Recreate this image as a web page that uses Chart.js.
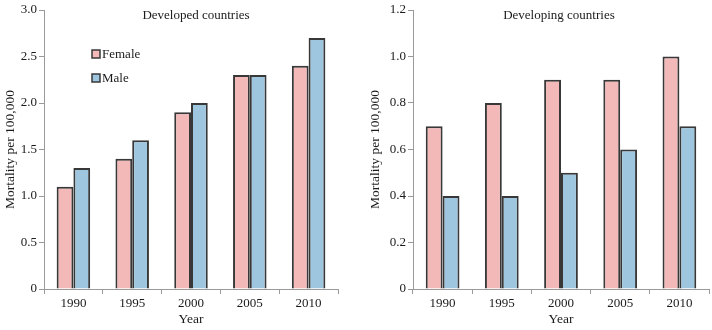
<!DOCTYPE html>
<html lang="en">
<head>
    <meta charset="UTF-8">
    <title>Mortality per 100,000 - Developed vs Developing</title>
    <script src="https://cdn.jsdelivr.net/npm/chart.js"></script>
    <style>
        body {
            margin: 0;
            background: #ffffff;
            width: 712px;
            height: 330px;
            overflow: hidden;
        }
        .panel {
            position: absolute;
            top: 0;
            width: 356px;
            height: 330px;
        }
        #leftPanel { left: 0; }
        #rightPanel { left: 356px; }
    </style>
</head>
<body>
    <div class="panel" id="leftPanel"><canvas id="developedChart"></canvas></div>
    <div class="panel" id="rightPanel"><canvas id="developingChart"></canvas></div>

    <script>
        const years = ["1990", "1995", "2000", "2005", "2010"];
        const developedFemale = [1.1, 1.4, 1.9, 2.3, 2.4];
        const developedMale = [1.3, 1.6, 2.0, 2.3, 2.7];
        const developingFemale = [0.7, 0.8, 0.9, 0.9, 1.0];
        const developingMale = [0.4, 0.4, 0.5, 0.6, 0.7];
        const developedTicks = [0, 0.5, 1.0, 1.5, 2.0, 2.5, 3.0];
        const developingTicks = [0, 0.2, 0.4, 0.6, 0.8, 1.0, 1.2];

        const femaleColor = "#f3b8b8";
        const maleColor = "#9ec6de";
        const edgeColor = "#383838";
        const axisColor = "#9a9a9a";
        const serif = "'Liberation Serif', 'Times New Roman', serif";

        // draws the panel title and (optionally) the legend inside the plot area
        const panelDecor = {
            id: "panelDecor",
            afterDraw(chart, args, opts) {
                const ctx = chart.ctx;
                const area = chart.chartArea;
                ctx.save();
                ctx.fillStyle = "#1a1a1a";
                ctx.font = "13px " + serif;
                ctx.textAlign = "center";
                ctx.textBaseline = "middle";
                ctx.fillText(opts.title, area.left + area.width * opts.titlePos, 16);

                if (opts.legend) {
                    chart.data.datasets.forEach((ds, i) => {
                        const y = opts.legendY + i * 24;
                        ctx.fillStyle = ds.backgroundColor;
                        ctx.fillRect(opts.legendX, y - 4, 8, 8);
                        ctx.strokeStyle = edgeColor;
                        ctx.lineWidth = 1.5;
                        ctx.strokeRect(opts.legendX, y - 4, 8, 8);
                        ctx.fillStyle = "#1a1a1a";
                        ctx.textAlign = "left";
                        ctx.fillText(ds.label, opts.legendX + 10, y + 1);
                    });
                }
                ctx.restore();
            }
        };

        function makeChart(canvasId, female, male, ticks, yWidth, rightPad, decor, yTitlePad) {
            return new Chart(document.getElementById(canvasId), {
                type: "bar",
                data: {
                    labels: years,
                    datasets: [
                        { label: "Female", data: female, backgroundColor: femaleColor, borderColor: edgeColor, borderWidth: 2 },
                        { label: "Male", data: male, backgroundColor: maleColor, borderColor: edgeColor, borderWidth: 2 }
                    ]
                },
                options: {
                    responsive: true,
                    maintainAspectRatio: false,
                    animation: false,
                    layout: { padding: { top: 10, right: rightPad, left: 0, bottom: 0 } },
                    datasets: { bar: { categoryPercentage: 0.57, barPercentage: 1.0 } },
                    plugins: {
                        legend: { display: false },
                        tooltip: { enabled: false },
                        panelDecor: decor
                    },
                    scales: {
                        x: {
                            grid: { drawOnChartArea: false, tickLength: 5, color: axisColor, offset: true },
                            border: { display: true, color: axisColor },
                            ticks: { color: "#1a1a1a", font: { family: serif, size: 13 }, padding: 2, maxRotation: 0 },
                            title: { display: true, text: "Year", color: "#1a1a1a", font: { family: serif, size: 13.5 }, padding: 2 },
                            afterFit(scale) { scale.height = 41; }
                        },
                        y: {
                            min: ticks[0],
                            max: ticks[ticks.length - 1],
                            afterBuildTicks(scale) { scale.ticks = ticks.map(v => ({ value: v })); },
                            grid: { drawOnChartArea: false, tickLength: 5, color: axisColor },
                            border: { display: true, color: axisColor },
                            ticks: {
                                color: "#1a1a1a",
                                font: { family: serif, size: 13 },
                                padding: 2,
                                callback: v => v === 0 ? "0" : v.toFixed(1)
                            },
                            title: { display: true, text: "Mortality per 100,000", color: "#1a1a1a", font: { family: serif, size: 13.5 }, padding: yTitlePad },
                            afterFit(scale) { scale.width = yWidth; }
                        }
                    }
                },
                plugins: [panelDecor]
            });
        }

        makeChart("developedChart", developedFemale, developedMale, developedTicks, 44, 18,
            { title: "Developed countries", titlePos: 0.517, legend: true, legendX: 92, legendY: 54 }, 2);
        makeChart("developingChart", developingFemale, developingMale, developingTicks, 57, 3,
            { title: "Developing countries", titlePos: 0.493, legend: false }, 11);
    </script>
</body>
</html>
